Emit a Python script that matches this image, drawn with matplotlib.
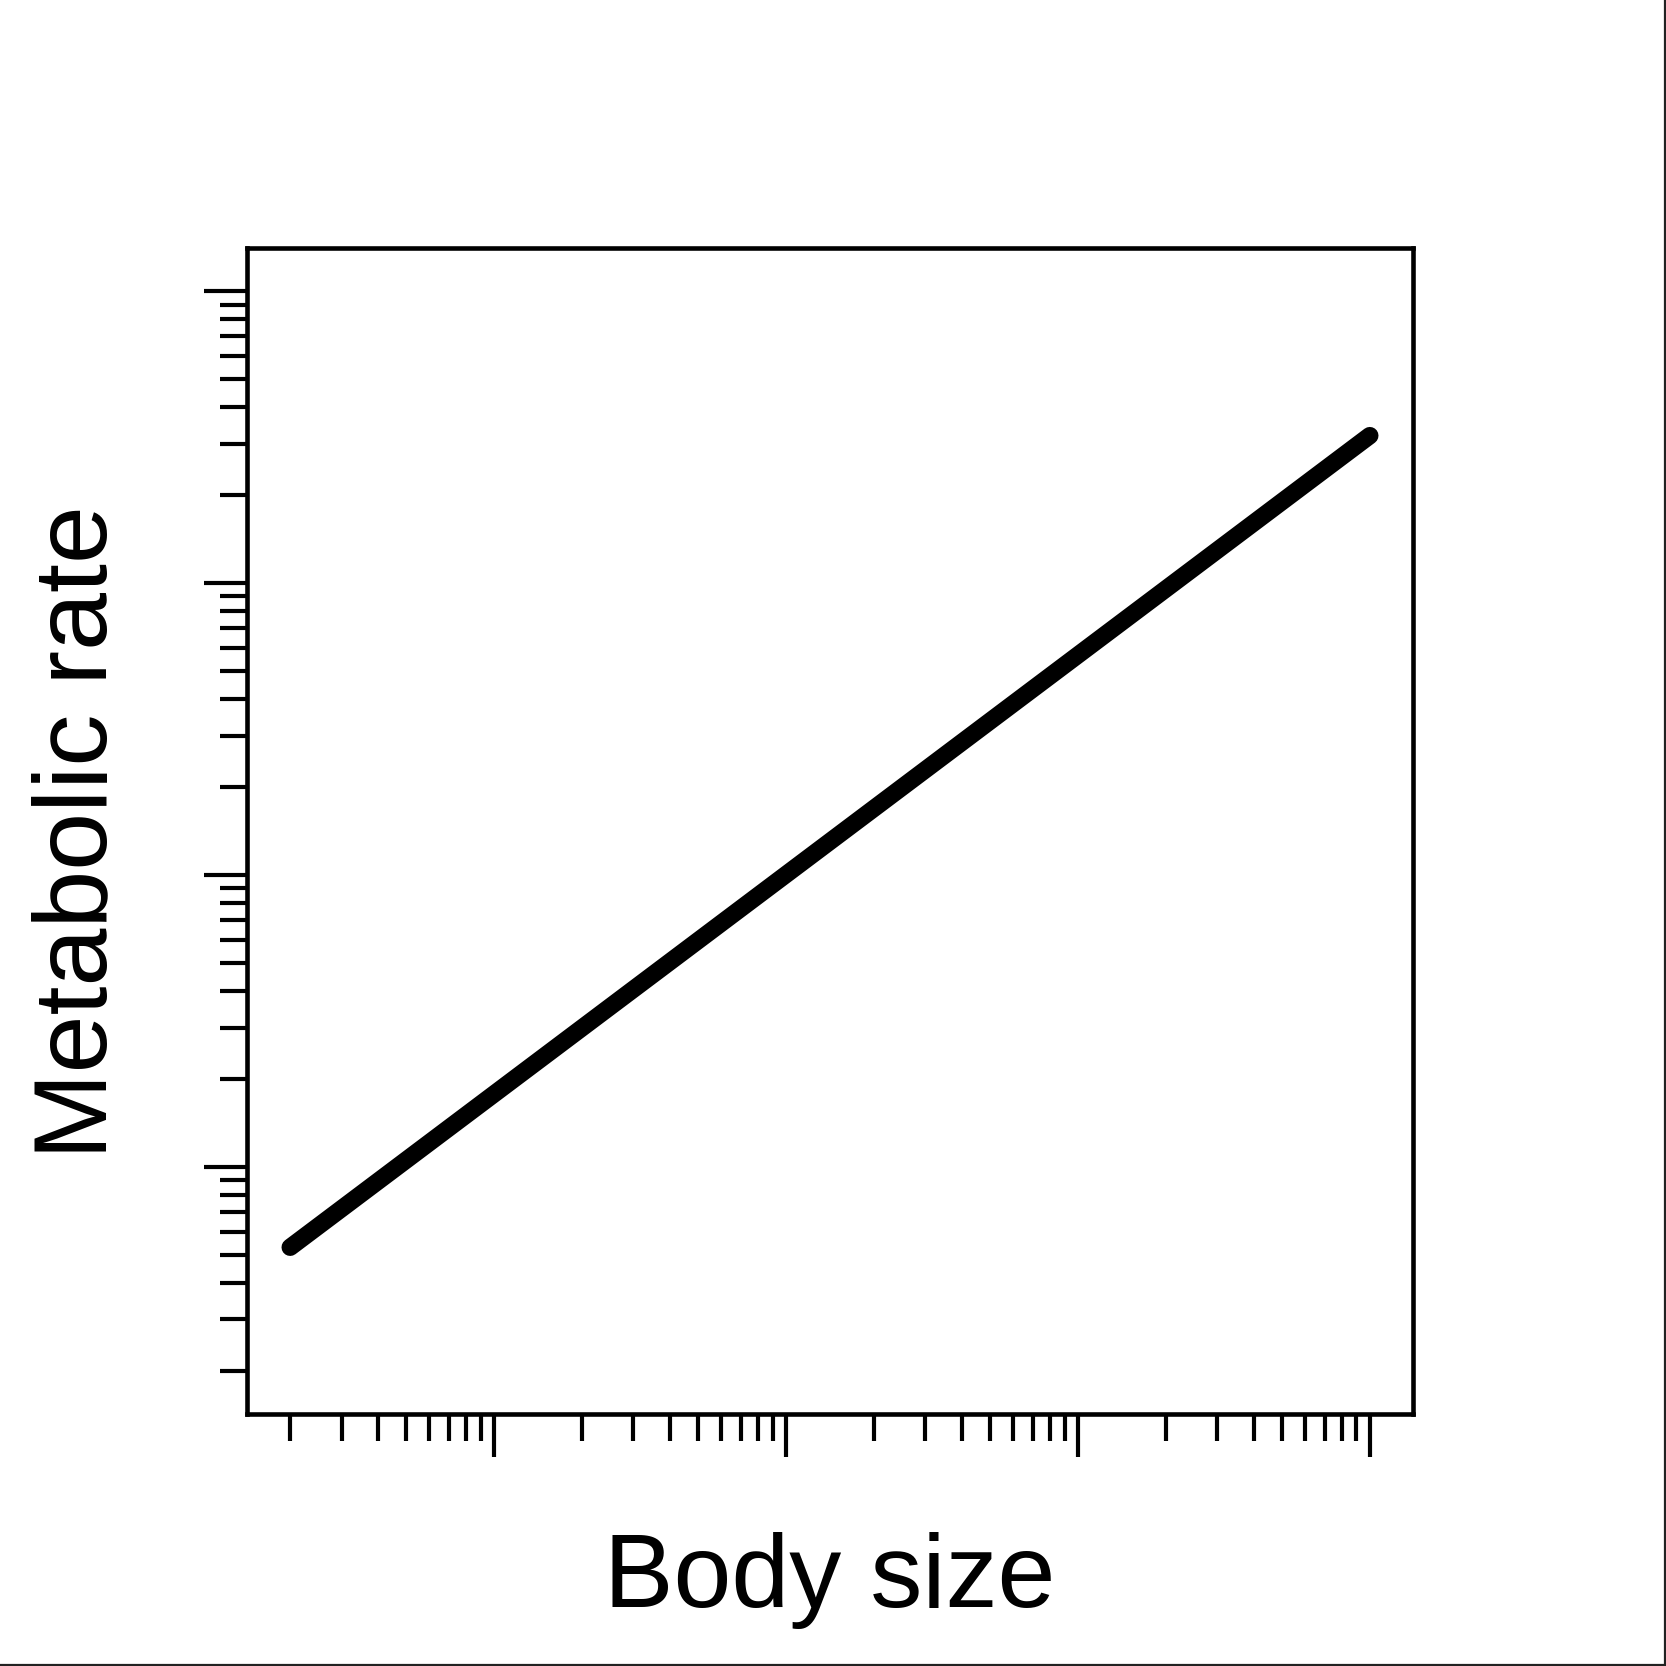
import matplotlib
matplotlib.use("Agg")
import matplotlib.pyplot as plt
from matplotlib.ticker import LogLocator, NullFormatter
from matplotlib.lines import Line2D
import numpy as np

# Data (log-log power law, slope ~3/4)
body_size = [2, 10000]
metabolic_rate = [0.53, 320]

# Axis ranges as in the original R plot (4% padding on log scale)
x_range = (2, 10000)
y_range = (0.2, 1000)

W = 1666
fig = plt.figure(figsize=(W / 100, W / 100), dpi=100)
ax = fig.add_axes([247 / W, 1 - 1414 / W, (1413 - 247) / W, (1414 - 248) / W])

ax.plot(body_size, metabolic_rate, color="black", linewidth=12.5,
        solid_capstyle="round")

ax.set_xscale("log")
ax.set_yscale("log")


def padded(lo, hi, frac=0.04):
    llo, lhi = np.log10(lo), np.log10(hi)
    d = (lhi - llo) * frac
    return 10 ** (llo - d), 10 ** (lhi + d)


ax.set_xlim(*padded(*x_range))
ax.set_ylim(*padded(*y_range))

for axis in (ax.xaxis, ax.yaxis):
    axis.set_major_locator(LogLocator(base=10, numticks=20))
    axis.set_minor_locator(LogLocator(base=10, subs=np.arange(2, 10), numticks=20))
    axis.set_major_formatter(NullFormatter())
    axis.set_minor_formatter(NullFormatter())

ax.tick_params(which="major", length=31, width=3, direction="out",
               top=False, right=False, color="black")
ax.tick_params(which="minor", length=19.5, width=3, direction="out",
               top=False, right=False, color="black")

for sp in ax.spines.values():
    sp.set_linewidth(3.3)
    sp.set_color("black")

font = ["Liberation Sans", "DejaVu Sans"]
fig.text(830 / W, 1 - 1607 / W, "Body size", ha="center", va="baseline",
         fontsize=75, family=font)
fig.text(106 / W, 1 - 832 / W, "Metabolic rate", ha="center", va="baseline",
         rotation=90, rotation_mode="anchor", fontsize=75, family=font)

# thin border on the right and bottom edges of the image
edge = 1 / W
fig.add_artist(Line2D([0, 1], [edge, edge], transform=fig.transFigure,
                      color="#222222", linewidth=1.6))
fig.add_artist(Line2D([1 - edge, 1 - edge], [0, 1], transform=fig.transFigure,
                      color="#222222", linewidth=1.6))

fig.savefig("out.png", dpi=100, facecolor="white")
